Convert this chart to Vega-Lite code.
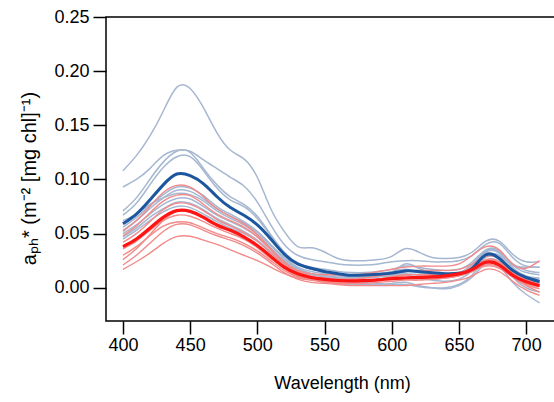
{
"$schema":"https://vega.github.io/schema/vega-lite/v6.json",
"width":472,"height":304,
"autosize":{"type":"none"},
"padding":{"left":106,"top":17,"right":0,"bottom":81},
"background":"white",
"config":{"view":{"stroke":"black","strokeWidth":1.5},"font":"Liberation Sans"},
"datasets":{
"bg":[
{"s":"B1","w":400,"v":0.108},{"s":"B1","w":410,"v":0.122},{"s":"B1","w":420,"v":0.140},{"s":"B1","w":430,"v":0.163},{"s":"B1","w":440,"v":0.185},{"s":"B1","w":450,"v":0.184},{"s":"B1","w":460,"v":0.166},{"s":"B1","w":470,"v":0.143},{"s":"B1","w":480,"v":0.127},{"s":"B1","w":490,"v":0.119},{"s":"B1","w":500,"v":0.102},{"s":"B1","w":510,"v":0.073},{"s":"B1","w":520,"v":0.052},{"s":"B1","w":530,"v":0.038},{"s":"B1","w":540,"v":0.037},{"s":"B1","w":550,"v":0.033},{"s":"B1","w":560,"v":0.027},{"s":"B1","w":570,"v":0.025},{"s":"B1","w":580,"v":0.025},{"s":"B1","w":590,"v":0.026},{"s":"B1","w":600,"v":0.029},{"s":"B1","w":610,"v":0.036},{"s":"B1","w":620,"v":0.033},{"s":"B1","w":630,"v":0.028},{"s":"B1","w":640,"v":0.027},{"s":"B1","w":650,"v":0.028},{"s":"B1","w":660,"v":0.033},{"s":"B1","w":670,"v":0.043},{"s":"B1","w":680,"v":0.043},{"s":"B1","w":690,"v":0.031},{"s":"B1","w":700,"v":0.024},{"s":"B1","w":710,"v":0.024},
{"s":"B2","w":400,"v":0.093},{"s":"B2","w":410,"v":0.100},{"s":"B2","w":420,"v":0.110},{"s":"B2","w":430,"v":0.122},{"s":"B2","w":440,"v":0.127},{"s":"B2","w":450,"v":0.126},{"s":"B2","w":460,"v":0.118},{"s":"B2","w":470,"v":0.110},{"s":"B2","w":480,"v":0.102},{"s":"B2","w":490,"v":0.094},{"s":"B2","w":500,"v":0.079},{"s":"B2","w":510,"v":0.058},{"s":"B2","w":520,"v":0.040},{"s":"B2","w":530,"v":0.030},{"s":"B2","w":540,"v":0.026},{"s":"B2","w":550,"v":0.024},{"s":"B2","w":560,"v":0.022},{"s":"B2","w":570,"v":0.021},{"s":"B2","w":580,"v":0.021},{"s":"B2","w":590,"v":0.022},{"s":"B2","w":600,"v":0.024},{"s":"B2","w":610,"v":0.025},{"s":"B2","w":620,"v":0.025},{"s":"B2","w":630,"v":0.024},{"s":"B2","w":640,"v":0.024},{"s":"B2","w":650,"v":0.025},{"s":"B2","w":660,"v":0.030},{"s":"B2","w":670,"v":0.040},{"s":"B2","w":680,"v":0.041},{"s":"B2","w":690,"v":0.028},{"s":"B2","w":700,"v":0.020},{"s":"B2","w":710,"v":0.019},
{"s":"B3","w":400,"v":0.071},{"s":"B3","w":410,"v":0.083},{"s":"B3","w":420,"v":0.100},{"s":"B3","w":430,"v":0.116},{"s":"B3","w":440,"v":0.126},{"s":"B3","w":450,"v":0.125},{"s":"B3","w":460,"v":0.110},{"s":"B3","w":470,"v":0.095},{"s":"B3","w":480,"v":0.084},{"s":"B3","w":490,"v":0.077},{"s":"B3","w":500,"v":0.066},{"s":"B3","w":510,"v":0.049},{"s":"B3","w":520,"v":0.033},{"s":"B3","w":530,"v":0.023},{"s":"B3","w":540,"v":0.019},{"s":"B3","w":550,"v":0.017},{"s":"B3","w":560,"v":0.015},{"s":"B3","w":570,"v":0.014},{"s":"B3","w":580,"v":0.014},{"s":"B3","w":590,"v":0.015},{"s":"B3","w":600,"v":0.017},{"s":"B3","w":610,"v":0.020},{"s":"B3","w":620,"v":0.019},{"s":"B3","w":630,"v":0.017},{"s":"B3","w":640,"v":0.016},{"s":"B3","w":650,"v":0.017},{"s":"B3","w":660,"v":0.024},{"s":"B3","w":670,"v":0.035},{"s":"B3","w":680,"v":0.034},{"s":"B3","w":690,"v":0.021},{"s":"B3","w":700,"v":0.014},{"s":"B3","w":710,"v":0.012},
{"s":"B4","w":400,"v":0.067},{"s":"B4","w":410,"v":0.078},{"s":"B4","w":420,"v":0.095},{"s":"B4","w":430,"v":0.111},{"s":"B4","w":440,"v":0.121},{"s":"B4","w":450,"v":0.121},{"s":"B4","w":460,"v":0.108},{"s":"B4","w":470,"v":0.092},{"s":"B4","w":480,"v":0.081},{"s":"B4","w":490,"v":0.075},{"s":"B4","w":500,"v":0.064},{"s":"B4","w":510,"v":0.048},{"s":"B4","w":520,"v":0.032},{"s":"B4","w":530,"v":0.022},{"s":"B4","w":540,"v":0.017},{"s":"B4","w":550,"v":0.015},{"s":"B4","w":560,"v":0.013},{"s":"B4","w":570,"v":0.012},{"s":"B4","w":580,"v":0.012},{"s":"B4","w":590,"v":0.013},{"s":"B4","w":600,"v":0.015},{"s":"B4","w":610,"v":0.017},{"s":"B4","w":620,"v":0.014},{"s":"B4","w":630,"v":0.012},{"s":"B4","w":640,"v":0.011},{"s":"B4","w":650,"v":0.013},{"s":"B4","w":660,"v":0.021},{"s":"B4","w":670,"v":0.033},{"s":"B4","w":680,"v":0.032},{"s":"B4","w":690,"v":0.019},{"s":"B4","w":700,"v":0.011},{"s":"B4","w":710,"v":0.009},
{"s":"B5","w":400,"v":0.056},{"s":"B5","w":410,"v":0.065},{"s":"B5","w":420,"v":0.076},{"s":"B5","w":430,"v":0.086},{"s":"B5","w":440,"v":0.093},{"s":"B5","w":450,"v":0.092},{"s":"B5","w":460,"v":0.085},{"s":"B5","w":470,"v":0.075},{"s":"B5","w":480,"v":0.068},{"s":"B5","w":490,"v":0.061},{"s":"B5","w":500,"v":0.052},{"s":"B5","w":510,"v":0.040},{"s":"B5","w":520,"v":0.028},{"s":"B5","w":530,"v":0.019},{"s":"B5","w":540,"v":0.015},{"s":"B5","w":550,"v":0.013},{"s":"B5","w":560,"v":0.011},{"s":"B5","w":570,"v":0.010},{"s":"B5","w":580,"v":0.010},{"s":"B5","w":590,"v":0.011},{"s":"B5","w":600,"v":0.012},{"s":"B5","w":610,"v":0.016},{"s":"B5","w":620,"v":0.014},{"s":"B5","w":630,"v":0.012},{"s":"B5","w":640,"v":0.011},{"s":"B5","w":650,"v":0.012},{"s":"B5","w":660,"v":0.018},{"s":"B5","w":670,"v":0.030},{"s":"B5","w":680,"v":0.029},{"s":"B5","w":690,"v":0.017},{"s":"B5","w":700,"v":0.010},{"s":"B5","w":710,"v":0.008},
{"s":"B6","w":400,"v":0.053},{"s":"B6","w":410,"v":0.062},{"s":"B6","w":420,"v":0.073},{"s":"B6","w":430,"v":0.083},{"s":"B6","w":440,"v":0.090},{"s":"B6","w":450,"v":0.089},{"s":"B6","w":460,"v":0.082},{"s":"B6","w":470,"v":0.073},{"s":"B6","w":480,"v":0.066},{"s":"B6","w":490,"v":0.060},{"s":"B6","w":500,"v":0.051},{"s":"B6","w":510,"v":0.039},{"s":"B6","w":520,"v":0.027},{"s":"B6","w":530,"v":0.018},{"s":"B6","w":540,"v":0.013},{"s":"B6","w":550,"v":0.010},{"s":"B6","w":560,"v":0.008},{"s":"B6","w":570,"v":0.006},{"s":"B6","w":580,"v":0.005},{"s":"B6","w":590,"v":0.004},{"s":"B6","w":600,"v":0.003},{"s":"B6","w":610,"v":0.003},{"s":"B6","w":620,"v":0.001},{"s":"B6","w":630,"v":0.000},{"s":"B6","w":640,"v":0.000},{"s":"B6","w":650,"v":0.003},{"s":"B6","w":660,"v":0.012},{"s":"B6","w":670,"v":0.025},{"s":"B6","w":680,"v":0.024},{"s":"B6","w":690,"v":0.010},{"s":"B6","w":700,"v":0.000},{"s":"B6","w":710,"v":-0.004},
{"s":"B7","w":400,"v":0.062},{"s":"B7","w":410,"v":0.068},{"s":"B7","w":420,"v":0.077},{"s":"B7","w":430,"v":0.083},{"s":"B7","w":440,"v":0.087},{"s":"B7","w":450,"v":0.086},{"s":"B7","w":460,"v":0.080},{"s":"B7","w":470,"v":0.071},{"s":"B7","w":480,"v":0.064},{"s":"B7","w":490,"v":0.058},{"s":"B7","w":500,"v":0.049},{"s":"B7","w":510,"v":0.037},{"s":"B7","w":520,"v":0.025},{"s":"B7","w":530,"v":0.017},{"s":"B7","w":540,"v":0.013},{"s":"B7","w":550,"v":0.011},{"s":"B7","w":560,"v":0.009},{"s":"B7","w":570,"v":0.009},{"s":"B7","w":580,"v":0.009},{"s":"B7","w":590,"v":0.010},{"s":"B7","w":600,"v":0.011},{"s":"B7","w":610,"v":0.012},{"s":"B7","w":620,"v":0.009},{"s":"B7","w":630,"v":0.007},{"s":"B7","w":640,"v":0.006},{"s":"B7","w":650,"v":0.008},{"s":"B7","w":660,"v":0.016},{"s":"B7","w":670,"v":0.028},{"s":"B7","w":680,"v":0.027},{"s":"B7","w":690,"v":0.015},{"s":"B7","w":700,"v":0.008},{"s":"B7","w":710,"v":0.004},
{"s":"B8","w":400,"v":0.050},{"s":"B8","w":410,"v":0.058},{"s":"B8","w":420,"v":0.068},{"s":"B8","w":430,"v":0.077},{"s":"B8","w":440,"v":0.0825},{"s":"B8","w":450,"v":0.082},{"s":"B8","w":460,"v":0.075},{"s":"B8","w":470,"v":0.067},{"s":"B8","w":480,"v":0.061},{"s":"B8","w":490,"v":0.055},{"s":"B8","w":500,"v":0.047},{"s":"B8","w":510,"v":0.036},{"s":"B8","w":520,"v":0.025},{"s":"B8","w":530,"v":0.017},{"s":"B8","w":540,"v":0.013},{"s":"B8","w":550,"v":0.011},{"s":"B8","w":560,"v":0.010},{"s":"B8","w":570,"v":0.010},{"s":"B8","w":580,"v":0.010},{"s":"B8","w":590,"v":0.012},{"s":"B8","w":600,"v":0.014},{"s":"B8","w":610,"v":0.022},{"s":"B8","w":620,"v":0.018},{"s":"B8","w":630,"v":0.014},{"s":"B8","w":640,"v":0.013},{"s":"B8","w":650,"v":0.014},{"s":"B8","w":660,"v":0.022},{"s":"B8","w":670,"v":0.034},{"s":"B8","w":680,"v":0.033},{"s":"B8","w":690,"v":0.022},{"s":"B8","w":700,"v":0.016},{"s":"B8","w":710,"v":0.014},
{"s":"B9","w":400,"v":0.047},{"s":"B9","w":410,"v":0.055},{"s":"B9","w":420,"v":0.065},{"s":"B9","w":430,"v":0.073},{"s":"B9","w":440,"v":0.079},{"s":"B9","w":450,"v":0.078},{"s":"B9","w":460,"v":0.072},{"s":"B9","w":470,"v":0.064},{"s":"B9","w":480,"v":0.058},{"s":"B9","w":490,"v":0.052},{"s":"B9","w":500,"v":0.044},{"s":"B9","w":510,"v":0.033},{"s":"B9","w":520,"v":0.022},{"s":"B9","w":530,"v":0.014},{"s":"B9","w":540,"v":0.009},{"s":"B9","w":550,"v":0.006},{"s":"B9","w":560,"v":0.004},{"s":"B9","w":570,"v":0.003},{"s":"B9","w":580,"v":0.003},{"s":"B9","w":590,"v":0.003},{"s":"B9","w":600,"v":0.004},{"s":"B9","w":610,"v":0.005},{"s":"B9","w":620,"v":0.002},{"s":"B9","w":630,"v":0.000},{"s":"B9","w":640,"v":-0.001},{"s":"B9","w":650,"v":0.002},{"s":"B9","w":660,"v":0.010},{"s":"B9","w":670,"v":0.022},{"s":"B9","w":680,"v":0.020},{"s":"B9","w":690,"v":0.005},{"s":"B9","w":700,"v":-0.006},{"s":"B9","w":710,"v":-0.014},
{"s":"B10","w":400,"v":0.045},{"s":"B10","w":410,"v":0.053},{"s":"B10","w":420,"v":0.062},{"s":"B10","w":430,"v":0.070},{"s":"B10","w":440,"v":0.075},{"s":"B10","w":450,"v":0.074},{"s":"B10","w":460,"v":0.068},{"s":"B10","w":470,"v":0.061},{"s":"B10","w":480,"v":0.055},{"s":"B10","w":490,"v":0.050},{"s":"B10","w":500,"v":0.043},{"s":"B10","w":510,"v":0.033},{"s":"B10","w":520,"v":0.023},{"s":"B10","w":530,"v":0.016},{"s":"B10","w":540,"v":0.012},{"s":"B10","w":550,"v":0.010},{"s":"B10","w":560,"v":0.009},{"s":"B10","w":570,"v":0.009},{"s":"B10","w":580,"v":0.010},{"s":"B10","w":590,"v":0.011},{"s":"B10","w":600,"v":0.012},{"s":"B10","w":610,"v":0.013},{"s":"B10","w":620,"v":0.012},{"s":"B10","w":630,"v":0.012},{"s":"B10","w":640,"v":0.012},{"s":"B10","w":650,"v":0.014},{"s":"B10","w":660,"v":0.020},{"s":"B10","w":670,"v":0.030},{"s":"B10","w":680,"v":0.030},{"s":"B10","w":690,"v":0.021},{"s":"B10","w":700,"v":0.019},{"s":"B10","w":710,"v":0.019}
],
"rd":[
{"s":"R1","w":400,"v":0.052},{"s":"R1","w":410,"v":0.062},{"s":"R1","w":420,"v":0.075},{"s":"R1","w":430,"v":0.088},{"s":"R1","w":440,"v":0.0945},{"s":"R1","w":450,"v":0.093},{"s":"R1","w":460,"v":0.084},{"s":"R1","w":470,"v":0.073},{"s":"R1","w":480,"v":0.066},{"s":"R1","w":490,"v":0.059},{"s":"R1","w":500,"v":0.049},{"s":"R1","w":510,"v":0.036},{"s":"R1","w":520,"v":0.024},{"s":"R1","w":530,"v":0.016},{"s":"R1","w":540,"v":0.013},{"s":"R1","w":550,"v":0.012},{"s":"R1","w":560,"v":0.012},{"s":"R1","w":570,"v":0.012},{"s":"R1","w":580,"v":0.013},{"s":"R1","w":590,"v":0.015},{"s":"R1","w":600,"v":0.017},{"s":"R1","w":610,"v":0.019},{"s":"R1","w":620,"v":0.020},{"s":"R1","w":630,"v":0.020},{"s":"R1","w":640,"v":0.020},{"s":"R1","w":650,"v":0.022},{"s":"R1","w":660,"v":0.030},{"s":"R1","w":670,"v":0.038},{"s":"R1","w":680,"v":0.035},{"s":"R1","w":690,"v":0.022},{"s":"R1","w":700,"v":0.018},{"s":"R1","w":710,"v":0.025},
{"s":"R2","w":400,"v":0.048},{"s":"R2","w":410,"v":0.057},{"s":"R2","w":420,"v":0.069},{"s":"R2","w":430,"v":0.080},{"s":"R2","w":440,"v":0.0855},{"s":"R2","w":450,"v":0.085},{"s":"R2","w":460,"v":0.077},{"s":"R2","w":470,"v":0.068},{"s":"R2","w":480,"v":0.062},{"s":"R2","w":490,"v":0.056},{"s":"R2","w":500,"v":0.047},{"s":"R2","w":510,"v":0.035},{"s":"R2","w":520,"v":0.023},{"s":"R2","w":530,"v":0.015},{"s":"R2","w":540,"v":0.011},{"s":"R2","w":550,"v":0.009},{"s":"R2","w":560,"v":0.008},{"s":"R2","w":570,"v":0.008},{"s":"R2","w":580,"v":0.009},{"s":"R2","w":590,"v":0.011},{"s":"R2","w":600,"v":0.013},{"s":"R2","w":610,"v":0.015},{"s":"R2","w":620,"v":0.016},{"s":"R2","w":630,"v":0.016},{"s":"R2","w":640,"v":0.016},{"s":"R2","w":650,"v":0.017},{"s":"R2","w":660,"v":0.022},{"s":"R2","w":670,"v":0.029},{"s":"R2","w":680,"v":0.027},{"s":"R2","w":690,"v":0.015},{"s":"R2","w":700,"v":0.008},{"s":"R2","w":710,"v":0.005},
{"s":"R3","w":400,"v":0.030},{"s":"R3","w":410,"v":0.038},{"s":"R3","w":420,"v":0.048},{"s":"R3","w":430,"v":0.057},{"s":"R3","w":440,"v":0.0607},{"s":"R3","w":450,"v":0.060},{"s":"R3","w":460,"v":0.055},{"s":"R3","w":470,"v":0.050},{"s":"R3","w":480,"v":0.046},{"s":"R3","w":490,"v":0.041},{"s":"R3","w":500,"v":0.034},{"s":"R3","w":510,"v":0.025},{"s":"R3","w":520,"v":0.016},{"s":"R3","w":530,"v":0.010},{"s":"R3","w":540,"v":0.007},{"s":"R3","w":550,"v":0.005},{"s":"R3","w":560,"v":0.004},{"s":"R3","w":570,"v":0.004},{"s":"R3","w":580,"v":0.004},{"s":"R3","w":590,"v":0.005},{"s":"R3","w":600,"v":0.006},{"s":"R3","w":610,"v":0.007},{"s":"R3","w":620,"v":0.007},{"s":"R3","w":630,"v":0.008},{"s":"R3","w":640,"v":0.009},{"s":"R3","w":650,"v":0.011},{"s":"R3","w":660,"v":0.015},{"s":"R3","w":670,"v":0.021},{"s":"R3","w":680,"v":0.019},{"s":"R3","w":690,"v":0.010},{"s":"R3","w":700,"v":0.003},{"s":"R3","w":710,"v":-0.001},
{"s":"R4","w":400,"v":0.021},{"s":"R4","w":410,"v":0.030},{"s":"R4","w":420,"v":0.041},{"s":"R4","w":430,"v":0.052},{"s":"R4","w":440,"v":0.0585},{"s":"R4","w":450,"v":0.058},{"s":"R4","w":460,"v":0.053},{"s":"R4","w":470,"v":0.048},{"s":"R4","w":480,"v":0.044},{"s":"R4","w":490,"v":0.039},{"s":"R4","w":500,"v":0.032},{"s":"R4","w":510,"v":0.023},{"s":"R4","w":520,"v":0.014},{"s":"R4","w":530,"v":0.008},{"s":"R4","w":540,"v":0.005},{"s":"R4","w":550,"v":0.004},{"s":"R4","w":560,"v":0.003},{"s":"R4","w":570,"v":0.002},{"s":"R4","w":580,"v":0.002},{"s":"R4","w":590,"v":0.002},{"s":"R4","w":600,"v":0.002},{"s":"R4","w":610,"v":0.002},{"s":"R4","w":620,"v":0.003},{"s":"R4","w":630,"v":0.004},{"s":"R4","w":640,"v":0.005},{"s":"R4","w":650,"v":0.007},{"s":"R4","w":660,"v":0.011},{"s":"R4","w":670,"v":0.017},{"s":"R4","w":680,"v":0.015},{"s":"R4","w":690,"v":0.006},{"s":"R4","w":700,"v":-0.002},{"s":"R4","w":710,"v":-0.007},
{"s":"R5","w":400,"v":0.017},{"s":"R5","w":410,"v":0.024},{"s":"R5","w":420,"v":0.032},{"s":"R5","w":430,"v":0.041},{"s":"R5","w":440,"v":0.0472},{"s":"R5","w":450,"v":0.0475},{"s":"R5","w":460,"v":0.044},{"s":"R5","w":470,"v":0.040},{"s":"R5","w":480,"v":0.035},{"s":"R5","w":490,"v":0.030},{"s":"R5","w":500,"v":0.025},{"s":"R5","w":510,"v":0.019},{"s":"R5","w":520,"v":0.013},{"s":"R5","w":530,"v":0.009},{"s":"R5","w":540,"v":0.007},{"s":"R5","w":550,"v":0.006},{"s":"R5","w":560,"v":0.005},{"s":"R5","w":570,"v":0.005},{"s":"R5","w":580,"v":0.006},{"s":"R5","w":590,"v":0.007},{"s":"R5","w":600,"v":0.008},{"s":"R5","w":610,"v":0.009},{"s":"R5","w":620,"v":0.010},{"s":"R5","w":630,"v":0.011},{"s":"R5","w":640,"v":0.012},{"s":"R5","w":650,"v":0.013},{"s":"R5","w":660,"v":0.016},{"s":"R5","w":670,"v":0.020},{"s":"R5","w":680,"v":0.018},{"s":"R5","w":690,"v":0.010},{"s":"R5","w":700,"v":0.004},{"s":"R5","w":710,"v":0.001},
{"s":"R6","w":400,"v":0.042},{"s":"R6","w":410,"v":0.050},{"s":"R6","w":420,"v":0.061},{"s":"R6","w":430,"v":0.072},{"s":"R6","w":440,"v":0.078},{"s":"R6","w":450,"v":0.077},{"s":"R6","w":460,"v":0.071},{"s":"R6","w":470,"v":0.063},{"s":"R6","w":480,"v":0.057},{"s":"R6","w":490,"v":0.051},{"s":"R6","w":500,"v":0.043},{"s":"R6","w":510,"v":0.032},{"s":"R6","w":520,"v":0.021},{"s":"R6","w":530,"v":0.013},{"s":"R6","w":540,"v":0.009},{"s":"R6","w":550,"v":0.007},{"s":"R6","w":560,"v":0.006},{"s":"R6","w":570,"v":0.006},{"s":"R6","w":580,"v":0.007},{"s":"R6","w":590,"v":0.008},{"s":"R6","w":600,"v":0.010},{"s":"R6","w":610,"v":0.012},{"s":"R6","w":620,"v":0.012},{"s":"R6","w":630,"v":0.012},{"s":"R6","w":640,"v":0.012},{"s":"R6","w":650,"v":0.014},{"s":"R6","w":660,"v":0.019},{"s":"R6","w":670,"v":0.026},{"s":"R6","w":680,"v":0.024},{"s":"R6","w":690,"v":0.014},{"s":"R6","w":700,"v":0.008},{"s":"R6","w":710,"v":0.005},
{"s":"R7","w":400,"v":0.036},{"s":"R7","w":410,"v":0.043},{"s":"R7","w":420,"v":0.053},{"s":"R7","w":430,"v":0.062},{"s":"R7","w":440,"v":0.067},{"s":"R7","w":450,"v":0.066},{"s":"R7","w":460,"v":0.061},{"s":"R7","w":470,"v":0.055},{"s":"R7","w":480,"v":0.050},{"s":"R7","w":490,"v":0.045},{"s":"R7","w":500,"v":0.037},{"s":"R7","w":510,"v":0.027},{"s":"R7","w":520,"v":0.018},{"s":"R7","w":530,"v":0.011},{"s":"R7","w":540,"v":0.008},{"s":"R7","w":550,"v":0.006},{"s":"R7","w":560,"v":0.005},{"s":"R7","w":570,"v":0.005},{"s":"R7","w":580,"v":0.006},{"s":"R7","w":590,"v":0.007},{"s":"R7","w":600,"v":0.008},{"s":"R7","w":610,"v":0.009},{"s":"R7","w":620,"v":0.008},{"s":"R7","w":630,"v":0.008},{"s":"R7","w":640,"v":0.009},{"s":"R7","w":650,"v":0.011},{"s":"R7","w":660,"v":0.016},{"s":"R7","w":670,"v":0.023},{"s":"R7","w":680,"v":0.020},{"s":"R7","w":690,"v":0.010},{"s":"R7","w":700,"v":0.002},{"s":"R7","w":710,"v":-0.004},
{"s":"R8","w":400,"v":0.026},{"s":"R8","w":410,"v":0.036},{"s":"R8","w":420,"v":0.049},{"s":"R8","w":430,"v":0.062},{"s":"R8","w":440,"v":0.0705},{"s":"R8","w":450,"v":0.070},{"s":"R8","w":460,"v":0.064},{"s":"R8","w":470,"v":0.057},{"s":"R8","w":480,"v":0.052},{"s":"R8","w":490,"v":0.046},{"s":"R8","w":500,"v":0.038},{"s":"R8","w":510,"v":0.028},{"s":"R8","w":520,"v":0.018},{"s":"R8","w":530,"v":0.011},{"s":"R8","w":540,"v":0.008},{"s":"R8","w":550,"v":0.006},{"s":"R8","w":560,"v":0.005},{"s":"R8","w":570,"v":0.005},{"s":"R8","w":580,"v":0.006},{"s":"R8","w":590,"v":0.008},{"s":"R8","w":600,"v":0.010},{"s":"R8","w":610,"v":0.011},{"s":"R8","w":620,"v":0.010},{"s":"R8","w":630,"v":0.011},{"s":"R8","w":640,"v":0.012},{"s":"R8","w":650,"v":0.013},{"s":"R8","w":660,"v":0.018},{"s":"R8","w":670,"v":0.025},{"s":"R8","w":680,"v":0.023},{"s":"R8","w":690,"v":0.013},{"s":"R8","w":700,"v":0.007},{"s":"R8","w":710,"v":0.003}
],
"mb":[
{"w":400,"v":0.059},{"w":410,"v":0.068},{"w":420,"v":0.081},{"w":430,"v":0.095},{"w":440,"v":0.105},{"w":450,"v":0.1035},{"w":460,"v":0.096},{"w":470,"v":0.084},{"w":480,"v":0.074},{"w":490,"v":0.067},{"w":500,"v":0.058},{"w":510,"v":0.045},{"w":520,"v":0.031},{"w":530,"v":0.022},{"w":540,"v":0.018},{"w":550,"v":0.015},{"w":560,"v":0.013},{"w":570,"v":0.0115},{"w":580,"v":0.0118},{"w":590,"v":0.0125},{"w":600,"v":0.0135},{"w":610,"v":0.0155},{"w":620,"v":0.015},{"w":630,"v":0.0138},{"w":640,"v":0.013},{"w":650,"v":0.0133},{"w":660,"v":0.018},{"w":670,"v":0.0305},{"w":680,"v":0.027},{"w":690,"v":0.016},{"w":700,"v":0.0095},{"w":710,"v":0.0058}
],
"mr":[
{"w":400,"v":0.038},{"w":410,"v":0.045},{"w":420,"v":0.055},{"w":430,"v":0.065},{"w":440,"v":0.0712},{"w":450,"v":0.0705},{"w":460,"v":0.065},{"w":470,"v":0.058},{"w":480,"v":0.053},{"w":490,"v":0.047},{"w":500,"v":0.039},{"w":510,"v":0.029},{"w":520,"v":0.019},{"w":530,"v":0.013},{"w":540,"v":0.0095},{"w":550,"v":0.0078},{"w":560,"v":0.0067},{"w":570,"v":0.0063},{"w":580,"v":0.0066},{"w":590,"v":0.0072},{"w":600,"v":0.0085},{"w":610,"v":0.009},{"w":620,"v":0.0095},{"w":630,"v":0.010},{"w":640,"v":0.011},{"w":650,"v":0.0128},{"w":660,"v":0.017},{"w":670,"v":0.0235},{"w":680,"v":0.021},{"w":690,"v":0.0115},{"w":700,"v":0.0055},{"w":710,"v":0.0018}
]
},
"encoding":{
"x":{"field":"w","type":"quantitative","scale":{"domain":[387.4,738.6],"nice":false,"zero":false},
"axis":{"title":"Wavelength (nm)","values":[400,450,500,550,600,650,700],"domain":false,"grid":false,"tickSize":13,"tickWidth":1.5,"tickColor":"black","labelFontSize":18,"labelColor":"black","labelFont":"Liberation Sans","labelPadding":2,"titleFont":"Liberation Sans","titleFontSize":18,"titleFontWeight":"normal","titleColor":"black","titlePadding":20}},
"y":{"field":"v","type":"quantitative","scale":{"domain":[-0.0307,0.25],"nice":false,"zero":false},
"axis":{"title":"aₚₕ* (m⁻² [mg chl]⁻¹)","values":[0,0.05,0.1,0.15,0.2,0.25],"format":".2f","domain":false,"grid":false,"tickSize":13,"tickWidth":1.5,"tickColor":"black","labelFontSize":18,"labelColor":"black","labelFont":"Liberation Sans","labelPadding":4,"titleFont":"Liberation Sans","titleFontSize":20,"titleFontWeight":"normal","titleColor":"black","titlePadding":14,"titleY":161}}
},
"layer":[
{"data":{"name":"bg"},"mark":{"type":"line","color":"#a6b7d1","strokeWidth":1.5,"interpolate":"natural"},"encoding":{"detail":{"field":"s"}}},
{"data":{"name":"rd"},"mark":{"type":"line","color":"#f28a8a","strokeWidth":1.4,"interpolate":"natural"},"encoding":{"detail":{"field":"s"}}},
{"data":{"name":"mb"},"mark":{"type":"line","color":"#1c569e","strokeWidth":3,"interpolate":"natural"},"encoding":{}},
{"data":{"name":"mr"},"mark":{"type":"line","color":"#ff1414","strokeWidth":3.2,"interpolate":"natural"},"encoding":{}}
]
}
